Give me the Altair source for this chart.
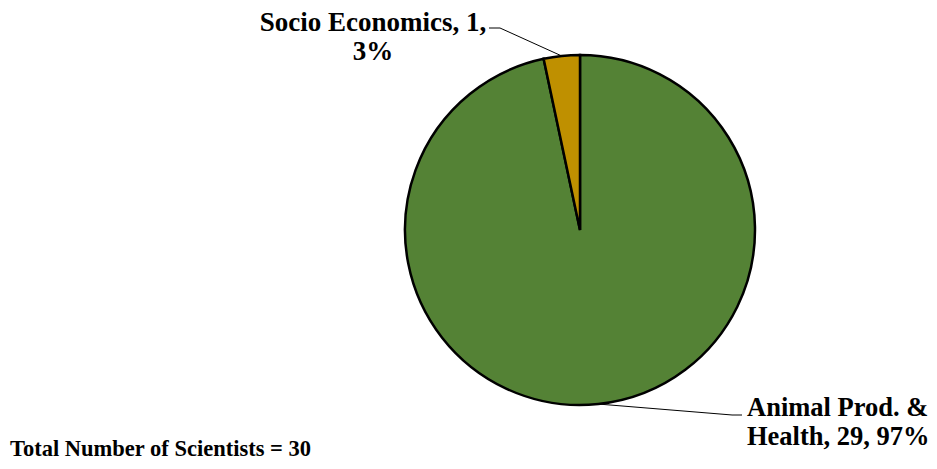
import altair as alt
import pandas as pd

categories = ["Animal Prod. & Health", "Socio Economics"]
counts = [29, 1]
percents = ["97%", "3%"]
colors = ["#548235", "#BF9000"]
footnote = "Total Number of Scientists = 30"

df = pd.DataFrame({"category": categories, "count": counts, "pct": percents,
                   "order": list(range(len(categories)))})

CX, CY, R = 572, 222, 175
FONT = "Times New Roman, Liberation Serif, serif"

base = alt.Chart(df).transform_window(
    cum="sum(count)", sort=[alt.SortField("order")]
).transform_joinaggregate(total="sum(count)").transform_calculate(
    mid="(datum.cum - datum.count/2) / datum.total * 2 * PI",
).transform_calculate(
    ex=f"{CX} + {R} * sin(datum.mid)",
    ey=f"{CY} - {R} * cos(datum.mid)",
)

pie = alt.Chart(df).mark_arc(outerRadius=R, stroke="black", strokeWidth=2.5).encode(
    theta=alt.Theta("count:Q", stack=True),
    order=alt.Order("order:Q"),
    color=alt.Color("category:N", scale=alt.Scale(domain=categories, range=colors), legend=None),
    x=alt.value(CX), y=alt.value(CY),
)

def leader(cat, elbow, end):
    f = base.transform_filter(alt.datum.category == cat)
    l1 = f.mark_rule(color="black", strokeWidth=1).encode(
        x=alt.X("ex:Q", scale=None), y=alt.Y("ey:Q", scale=None),
        x2=alt.value(elbow[0]), y2=alt.value(elbow[1]))
    l2 = f.mark_rule(color="black", strokeWidth=1).encode(
        x=alt.value(elbow[0]), y=alt.value(elbow[1]),
        x2=alt.value(end[0]), y2=alt.value(end[1]))
    return l1 + l2

def label(cat, lines_expr, x, y, align, size):
    f = base.transform_filter(alt.datum.category == cat).transform_calculate(lbl=lines_expr)
    return f.mark_text(font=FONT, fontSize=size, fontWeight="bold", align=align,
                       baseline="alphabetic", lineBreak="\n", lineHeight=29, color="black").encode(
        text="lbl:N", x=alt.value(x), y=alt.value(y))

socio = leader("Socio Economics", (492, 20), (481, 20)) + label(
    "Socio Economics", "datum.category + ', ' + datum.count + ',\\n' + datum.pct", 365, 23, "center", 27)
animal = leader("Animal Prod. & Health", (724, 407), (734, 407)) + label(
    "Animal Prod. & Health", "'Animal Prod. &\\nHealth, ' + datum.count + ', ' + datum.pct", 739, 408, "left", 26.5)

foot = alt.Chart(pd.DataFrame({"t": [footnote]})).mark_text(
    font=FONT, fontSize=22.5, fontWeight="bold", align="left", baseline="alphabetic", color="black"
).encode(text="t:N", x=alt.value(2), y=alt.value(448))

chart = (pie + socio + animal + foot).properties(
    width=921, height=453, padding=0, autosize=alt.AutoSizeParams(type="none")
).configure_view(stroke=None)

chart.save("out.html", embed_options={"renderer": "svg", "actions": False})
